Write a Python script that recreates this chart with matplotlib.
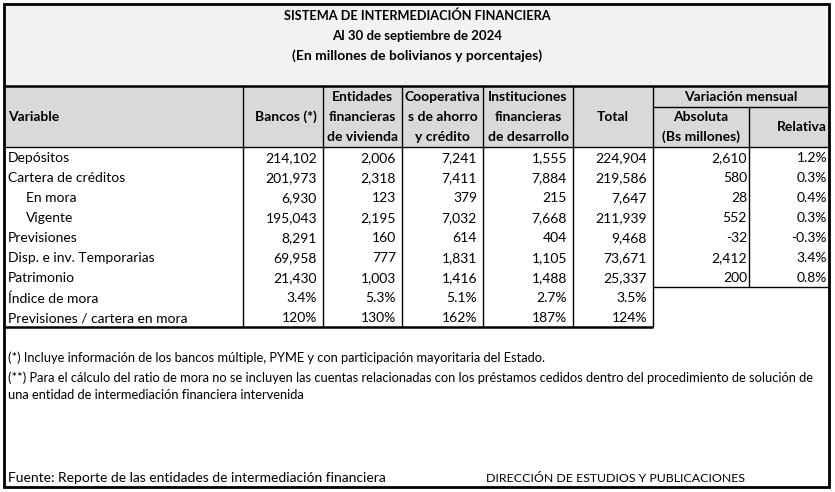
import matplotlib

matplotlib.use("Agg")
import matplotlib.pyplot as plt
from matplotlib.patches import Rectangle

# ---- data ----
title_lines = [
    "SISTEMA DE INTERMEDIACIÓN FINANCIERA",
    "Al 30 de septiembre de 2024",
    "(En millones de bolivianos y porcentajes)",
]
variables = [
    "Depósitos",
    "Cartera de créditos",
    "En mora",
    "Vigente",
    "Previsiones",
    "Disp. e inv. Temporarias",
    "Patrimonio",
    "Índice de mora",
    "Previsiones / cartera en mora",
]
indented = ["En mora", "Vigente"]

bancos = [214102, 201973, 6930, 195043, 8291, 69958, 21430]
efv = [2006, 2318, 123, 2195, 160, 777, 1003]
coop = [7241, 7411, 379, 7032, 614, 1831, 1416]
ifd = [1555, 7884, 215, 7668, 404, 1105, 1488]
total = [224904, 219586, 7647, 211939, 9468, 73671, 25337]

# Índice de mora (%) and Previsiones / cartera en mora (%), per column
indice_mora = [3.4, 5.3, 5.1, 2.7, 3.5]
prev_cartera = [120, 130, 162, 187, 124]

var_abs = [2610, 580, 28, 552, -32, 2412, 200]
var_rel = [1.2, 0.3, 0.4, 0.3, -0.3, 3.4, 0.8]

col_headers = [
    "Bancos (*)",
    "Entidades\nfinancieras\nde vivienda",
    "Cooperativa\ns de ahorro\ny crédito",
    "Instituciones\nfinancieras\nde desarrollo",
    "Total",
]
notes = [
    "(*) Incluye información de los bancos múltiple, PYME y con participación mayoritaria del Estado.",
    "(**) Para el cálculo del ratio de mora no se incluyen las cuentas relacionadas con los préstamos cedidos dentro del procedimiento de solución de",
    "una entidad de intermediación financiera intervenida",
]
source = "Fuente: Reporte de las entidades de intermediación financiera"
credit = "DIRECCIÓN DE ESTUDIOS Y PUBLICACIONES"

# ---- layout (pixel coords) ----
W, H = 835, 492
L, R, T, B = 4, 829, 4, 487
x_cols = [4, 243, 323, 402, 483, 573, 653, 749, 829]
y_head_top, y_head_bot = 86, 147
row_h = 20
y_table_bot = y_head_bot + row_h * len(variables)
y_var_bot = y_head_bot + row_h * len(var_abs)

FONT = ["Lato", "DejaVu Sans"]
fs = 10.0
title_fs = [9.2, 9.5, 10.0]

fig = plt.figure(figsize=(W / 100, H / 100), dpi=100)
ax = fig.add_axes([0, 0, 1, 1])
ax.set_xlim(0, W)
ax.set_ylim(H, 0)
ax.axis("off")

# backgrounds
ax.add_patch(Rectangle((L, T), R - L, y_head_top - T, color="#f2f2f2", lw=0))
ax.add_patch(Rectangle((L, y_head_top), R - L, y_head_bot - y_head_top, color="#d9d9d9", lw=0))

# title
for i, line in enumerate(title_lines):
    ax.text(417, 16 + 20 * i, line, ha="center", va="center", fontsize=title_fs[i],
            fontweight="bold", family=FONT)

# header
ax.text(8, 117, "Variable", ha="left", va="center", fontsize=fs, fontweight="bold", family=FONT)
ax.text(x_cols[2] - 6, 117, col_headers[0], ha="right", va="center", fontsize=fs,
        fontweight="bold", family=FONT)
for j in range(1, 4):
    xc = (x_cols[j + 1] + x_cols[j + 2]) / 2
    for k, part in enumerate(col_headers[j].split("\n")):
        ax.text(xc, 97 + 20 * k, part, ha="center", va="center", fontsize=fs,
                fontweight="bold", family=FONT)
ax.text((x_cols[5] + x_cols[6]) / 2, 117, col_headers[4], ha="center", va="center",
        fontsize=fs, fontweight="bold", family=FONT)
ax.text((x_cols[6] + x_cols[8]) / 2, 97, "Variación mensual", ha="center", va="center",
        fontsize=fs, fontweight="bold", family=FONT)
ax.text((x_cols[6] + x_cols[7]) / 2, 117, "Absoluta", ha="center", va="center",
        fontsize=fs, fontweight="bold", family=FONT)
ax.text((x_cols[6] + x_cols[7]) / 2, 137, "(Bs millones)", ha="center", va="center",
        fontsize=fs, fontweight="bold", family=FONT)
ax.text(x_cols[8] - 2, 127, "Relativa", ha="right", va="center", fontsize=fs,
        fontweight="bold", family=FONT)

# body
series = [bancos, efv, coop, ifd, total]
for i, name in enumerate(variables):
    y = y_head_bot + row_h * i + row_h / 2 + 1.5
    x0 = 26 if name in indented else 8
    ax.text(x0, y, name, ha="left", va="center", fontsize=fs, family=FONT)
    for j, s in enumerate(series):
        if i < len(s):
            txt = f"{s[i]:,}"
        elif i == len(s):
            txt = f"{indice_mora[j]:.1f}%"
        else:
            txt = f"{prev_cartera[j]}%"
        ax.text(x_cols[j + 2] - 6, y, txt, ha="right", va="center", fontsize=fs, family=FONT)
    if i < len(var_abs):
        ax.text(x_cols[7] - 2, y, f"{var_abs[i]:,}", ha="right", va="center", fontsize=fs, family=FONT)
        ax.text(x_cols[8] - 2, y, f"{var_rel[i]:.1f}%", ha="right", va="center", fontsize=fs, family=FONT)

# grid lines
lc = "black"
ax.hlines(y_head_top, L, R, color=lc, lw=1.8)
ax.hlines(y_head_bot, L, R, color=lc, lw=1.0)
ax.hlines(107, x_cols[6], R, color=lc, lw=1.0)
ax.hlines(y_table_bot, L, x_cols[6], color=lc, lw=1.8)
ax.hlines(y_var_bot, x_cols[6], R, color=lc, lw=1.0)
for x in x_cols[1:7]:
    ax.vlines(x, y_head_top, y_table_bot, color=lc, lw=1.0)
ax.vlines(x_cols[7], 107, y_var_bot, color=lc, lw=1.0)
ax.add_patch(Rectangle((L, T), R - L, B - T, fill=False, ec=lc, lw=2.0))

# notes
ax.text(8, 358, notes[0], ha="left", va="center", fontsize=9.25, family=FONT)
ax.text(8, 378, notes[1], ha="left", va="center", fontsize=9.25, family=FONT)
ax.text(8, 395, notes[2], ha="left", va="center", fontsize=9.25, family=FONT)
ax.text(8, 478, source, ha="left", va="center", fontsize=fs, family=FONT)
ax.text(486, 478, credit, ha="left", va="center", fontsize=8.95, family=FONT)

plt.savefig("out.png", dpi=100)
plt.close()
